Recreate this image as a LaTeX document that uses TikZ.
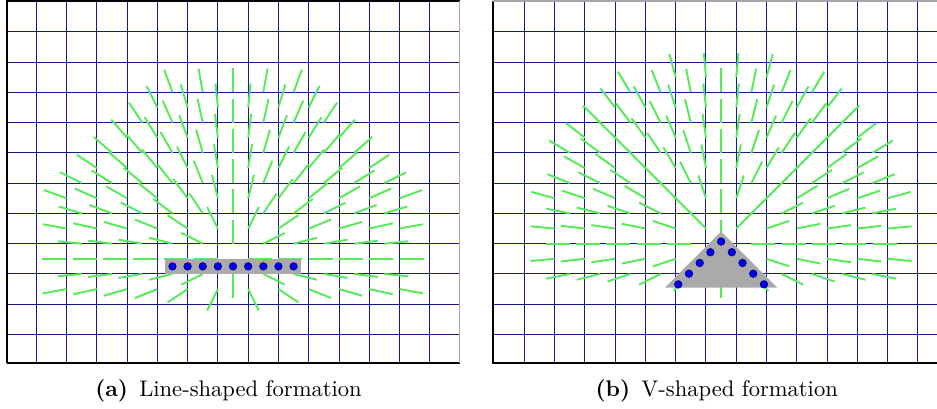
\documentclass[tikz,border=0pt]{standalone}
\usepackage{tikz}
\usetikzlibrary{calc}
\definecolor{gridblue}{RGB}{25,25,140}
\definecolor{fieldgreen}{RGB}{85,235,85}
\definecolor{formgray}{RGB}{170,170,170}
\definecolor{dotblue}{RGB}{0,0,235}
\tikzset{
  gridln/.style  = {draw=gridblue, line width=0.45pt},
  frameln/.style = {draw=black, line width=0.9pt},
  vec/.style     = {draw=fieldgreen, line width=0.9pt},
  form/.style    = {fill=formgray, draw=none},
  robot/.style   = {circle, fill=dotblue, draw=dotblue!55!black, line width=0.3pt,
                    minimum size=0.125cm, inner sep=0pt},
  captxt/.style  = {anchor=base, font=\fontsize{10.6}{12.7}\selectfont, inner sep=0pt},
}
% #1,#2 = field centre, #3 = parity of i+j for the sample points
\newcommand{\fieldquiver}[3]{%
  \foreach \i in {-11,...,11}{
    \foreach \j in {-2,...,11}{
      \pgfmathtruncatemacro\keep{(mod(abs((\i)+(\j)),2)==#3) && ((\i)*(\i)+(\j)*(\j)<144) && ((\i)*(\i)+(\j)*(\j)>0)}
      \ifnum\keep=1
        \pgfmathsetmacro\ang{atan2(0-(\j),\i)}
        \draw[vec] ({#1+0.5*(\i)},{#2-0.5*(\j)}) -- ++(\ang:0.793);
      \fi
    }
  }
}

\begin{document}
\begin{tikzpicture}[x=0.5cm, y=-0.5cm]
  \useasboundingbox (0,0) rectangle (30.945,13.507);
  \clip (0,0) rectangle (30.945,13.507);

  \begin{scope}[shift={(1.196,1.047)}]
    \foreach \x in {0,...,13} \draw[gridln] (\x,-1.01) -- (\x,10.93);
    \foreach \y in {0,...,10} \draw[gridln] (-0.95,\y) -- (13.98,\y);
    \fieldquiver{6.5}{7.5}{1}
    \fill[form] (4.25,7.5) rectangle (8.75,8.0);
    \foreach \k in {0,...,8} \node[robot] (la\k) at ({4.5+0.5*\k},7.75) {};
    \draw[frameln] (-0.95,10.93) -- (-0.95,-1.01) -- (13.98,-1.01);
    \draw[frameln] (-0.95,10.93) -- (13.98,10.93);
    \draw[frameln, draw=black!35] (13.98,-1.01) -- (13.98,10.93);
  \end{scope}

  \begin{scope}[shift={(17.315,1.047)}]
    \foreach \x in {0,...,13} \draw[gridln] (\x,-1.01) -- (\x,10.93);
    \foreach \y in {0,...,10} \draw[gridln] (-1.02,\y) -- (14,\y);
    \fieldquiver{6.5}{7.0}{0}
    \draw[vec] (6.5,7.0) -- ++(-90:0.793);
    \fill[form] (6.5,6.6) -- (4.65,8.45) -- (8.35,8.45) -- cycle;
    \node[robot] (vb0) at (6.5,6.93) {};
    \foreach \k in {1,...,4}{
      \node[robot] (vl\k) at ({6.5-0.3536*\k},{6.93+0.3536*\k}) {};
      \node[robot] (vr\k) at ({6.5+0.3536*\k},{6.93+0.3536*\k}) {};
    }
    \draw[frameln] (-1.02,-1.01) -- (-1.02,10.93) -- (14,10.93);
    \draw[frameln, draw=black!35] (-1.02,-1.01) -- (14,-1.01);
  \end{scope}

  \node[captxt] (capa) at (7.546,13.10) {\textbf{(a)}\enskip Line-shaped formation};
  \node[captxt] (capb) at (23.67,13.10) {\textbf{(b)}\enskip V-shaped formation};
\end{tikzpicture}
\end{document}
